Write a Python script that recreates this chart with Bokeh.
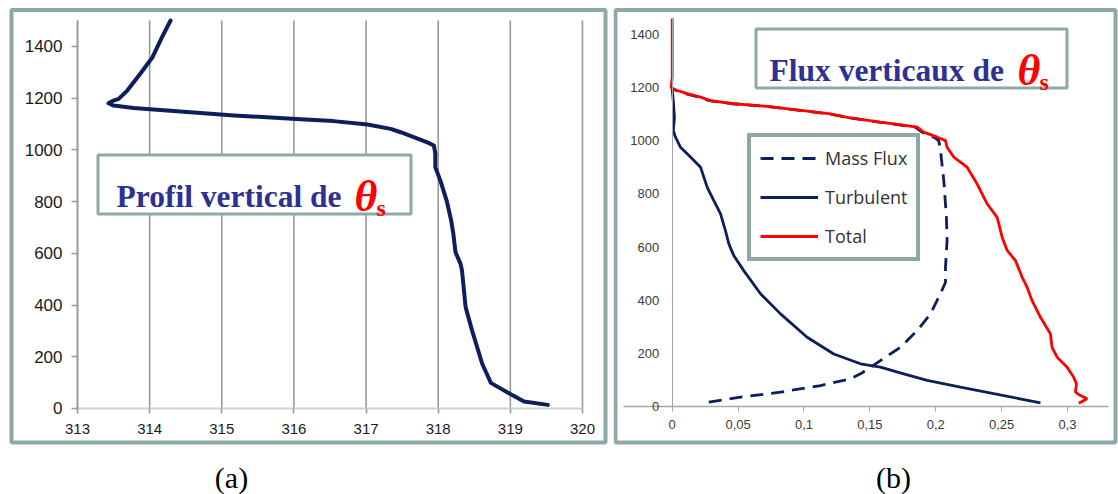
from bokeh.plotting import figure
from bokeh.models import FixedTicker, BoxAnnotation, Label, Legend, LegendItem
from bokeh.layouts import row
from bokeh.embed import file_html
from bokeh.resources import INLINE

# ---------------- data ----------------
# (a) vertical profile of theta_s
z_a = [14, 27, 59, 99, 173, 301, 392, 533, 559, 604, 675, 727, 801, 881, 933, 985,
       1017, 1029, 1049, 1068, 1081, 1098, 1111, 1118, 1133, 1152, 1162, 1171, 1180,
       1188, 1197, 1229, 1294, 1358, 1435, 1500]
theta_a = [319.52, 319.19, 318.98, 318.73, 318.61, 318.47, 318.38, 318.33, 318.31, 318.24,
           318.21, 318.18, 318.12, 318.03, 317.96, 317.96, 317.94, 317.85, 317.66, 317.48,
           317.34, 317.02, 316.55, 316.09, 315.17, 314.24, 313.78, 313.50, 313.43, 313.48,
           313.57, 313.69, 313.87, 314.04, 314.17, 314.29]
a_xticks = [313, 314, 315, 316, 317, 318, 319, 320]
a_yticks = [0, 200, 400, 600, 800, 1000, 1200, 1400]
a_ytop = 1500

# (b) vertical fluxes of theta_s
z_mf = [15, 34, 53, 78, 103, 122, 172, 222, 285, 348, 424, 467, 524, 625, 712, 851, 964,
        1001, 1014, 1033, 1052, 1071, 1089, 1102, 1130, 1140, 1152, 1165, 1178, 1190, 1198]
mass_flux = [0.0278, 0.0518, 0.0822, 0.1125, 0.1353, 0.1429, 0.158, 0.1732, 0.1859, 0.196,
             0.2036, 0.2074, 0.2074, 0.2086, 0.2081, 0.2061, 0.2036, 0.2023, 0.1985, 0.1895,
             0.1845, 0.157, 0.132, 0.119, 0.071, 0.046, 0.028, 0.020, 0.010, 0.003, 0.0]
z_turb = [13, 28, 47, 72, 97, 122, 147, 160, 197, 260, 348, 424, 511, 568, 612, 662, 725,
          775, 825, 901, 939, 976, 1014, 1039, 1089, 1152, 1195]
turbulent = [0.2795, 0.264, 0.244, 0.2187, 0.1935, 0.1757, 0.158, 0.1429, 0.1226, 0.1024,
             0.0822, 0.067, 0.0543, 0.0467, 0.043, 0.0404, 0.0367, 0.0316, 0.0266, 0.0215,
             0.0139, 0.0063, 0.0025, 0.0008, 0.0017, 0.0008, 0.0]
z_tot = [11, 28, 40, 53, 84, 109, 147, 185, 222, 273, 335, 398, 449, 474, 486, 549, 587, 637,
         712, 763, 838, 901, 939, 976, 1001, 1014, 1033, 1052, 1071, 1089, 1102, 1130, 1140,
         1152, 1165, 1178, 1190, 1200, 1240, 1341, 1461]
total = [0.3085, 0.3149, 0.3098, 0.306, 0.3068, 0.3047, 0.2997, 0.2921, 0.2883, 0.287,
         0.2795, 0.2731, 0.2693, 0.2668, 0.2656, 0.2605, 0.2542, 0.2504, 0.2466, 0.239,
         0.2314, 0.2238, 0.2137, 0.2086, 0.2074, 0.2011, 0.1909, 0.1859, 0.158, 0.1328,
         0.1201, 0.0721, 0.0467, 0.029, 0.0215, 0.0114, 0.0038, -0.0008, 0.0, 0.0, 0.0]
b_xticks = [0, 0.05, 0.1, 0.15, 0.2, 0.25, 0.3]
b_xlabels = ["0", "0,05", "0,1", "0,15", "0,2", "0,25", "0,3"]
b_yticks = [0, 200, 400, 600, 800, 1000, 1200, 1400]
series_names = ["Mass Flux", "Turbulent", "Total"]

# ---------------- style ----------------
TEAL = "#8ea8a8"
NAVY = "#0c1f5c"
RED = "#ff0000"
TBLUE = "#2e3192"
SERIF = "Liberation Serif"


def box(p, left, right, top, bottom, width, fill):
    p.add_layout(BoxAnnotation(left=left, right=right, top=top, bottom=bottom,
                               left_units="screen", right_units="screen",
                               top_units="screen", bottom_units="screen",
                               fill_color=fill, fill_alpha=1 if fill else 0,
                               line_color=TEAL, line_alpha=1, line_width=width,
                               level="overlay"))


def title_labels(p, x0, y0, words, theta_dx):
    p.add_layout(Label(x=x0, y=y0, x_units="screen", y_units="screen", text=words,
                       text_font=SERIF, text_font_style="bold", text_font_size="31.5px",
                       text_color=TBLUE, text_baseline="alphabetic", level="overlay"))
    p.add_layout(Label(x=x0 + theta_dx, y=y0, x_units="screen", y_units="screen", text="θ",
                       text_font=SERIF, text_font_style="bold italic", text_font_size="44px",
                       text_color=RED, text_baseline="alphabetic", level="overlay"))
    p.add_layout(Label(x=x0 + theta_dx + 22, y=y0 - 11, x_units="screen", y_units="screen",
                       text="s", text_font=SERIF, text_font_style="bold",
                       text_font_size="24px", text_color=RED, text_baseline="alphabetic",
                       level="overlay"))


def caption(p, text, x):
    p.add_layout(Label(x=x, y=17, x_units="screen", y_units="screen", text=text,
                       text_font=SERIF, text_font_size="30px", text_color="black",
                       text_align="center", text_baseline="middle"))


def make_fig(w, xr, yr):
    p = figure(width=w, height=494, x_range=xr, y_range=yr, output_backend="svg",
               toolbar_location=None, min_border=0)
    p.outline_line_color = None
    p.grid.visible = False
    return p


# ---------------- panel (a) ----------------
pA = make_fig(613, (311.9326, 320.430), (-332.5, 1577.3))
pA.segment(x0=a_xticks, y0=0, x1=a_xticks, y1=a_ytop, line_color="#999999", line_width=1.6)

pA.xaxis.fixed_location = 0
pA.xaxis.bounds = (a_xticks[0], a_xticks[-1])
pA.yaxis.fixed_location = a_xticks[0]
pA.yaxis.bounds = (0, a_ytop)
pA.xaxis.ticker = FixedTicker(ticks=a_xticks)
pA.yaxis.ticker = FixedTicker(ticks=a_yticks)
pA.xaxis.axis_line_color = "#cfcfcf"
pA.xaxis.axis_line_width = 2
pA.xaxis.major_tick_line_color = "#999999"
pA.xaxis.major_tick_line_width = 1.6
pA.xaxis.major_tick_out = 5
pA.xaxis.major_tick_in = 0
pA.xaxis.minor_tick_line_color = None
pA.xaxis.major_label_text_font = "Liberation Sans"
pA.xaxis.major_label_text_font_size = "15px"
pA.xaxis.major_label_text_color = "#1a1a1a"
pA.xaxis.major_label_standoff = 11
pA.yaxis.axis_line_color = "#999999"
pA.yaxis.axis_line_width = 1.6
pA.yaxis.major_tick_line_color = "#999999"
pA.yaxis.major_tick_line_width = 1.6
pA.yaxis.major_tick_out = 6
pA.yaxis.major_tick_in = 0
pA.yaxis.minor_tick_line_color = None
pA.yaxis.major_label_text_font = "Liberation Sans"
pA.yaxis.major_label_text_font_size = "17px"
pA.yaxis.major_label_text_color = "#1a1a1a"
pA.yaxis.major_label_standoff = 9

pA.line(theta_a, z_a, line_color=NAVY, line_width=4, line_join="round", line_cap="round")

box(pA, 11, 605, 484.5, 52, 4, None)
box(pA, 97.5, 410.5, 339.5, 280.5, 3, "white")
title_labels(pA, 116, 298, "Profil vertical de", 238)
caption(pA, "(a)", 231)

# ---------------- panel (b) ----------------
pB = make_fig(505, (-0.04455, 0.33870), (-332.8, 1529.2))
pB.xaxis.fixed_location = 0
pB.xaxis.bounds = (-0.037, 0.331)
pB.yaxis.fixed_location = 0
pB.yaxis.bounds = (0, 1465)
pB.xaxis.ticker = FixedTicker(ticks=b_xticks)
pB.xaxis.major_label_overrides = {t: s for t, s in zip(b_xticks, b_xlabels)}
pB.yaxis.ticker = FixedTicker(ticks=b_yticks)
pB.xaxis.axis_line_color = "#a6a6a6"
pB.xaxis.axis_line_width = 1.5
pB.xaxis.major_tick_line_color = "#a6a6a6"
pB.xaxis.major_tick_out = 5
pB.xaxis.major_tick_in = 0
pB.xaxis.minor_tick_line_color = None
pB.xaxis.major_label_standoff = 9
pB.yaxis.axis_line_color = "#a6a6a6"
pB.yaxis.axis_line_width = 1
pB.yaxis.major_tick_line_color = None
pB.yaxis.major_tick_out = 0
pB.yaxis.major_tick_in = 0
pB.yaxis.minor_tick_line_color = None
pB.yaxis.major_label_standoff = 13
for ax in (pB.xaxis, pB.yaxis):
    ax.major_label_text_font = "Liberation Sans"
    ax.major_label_text_font_size = "13px"
    ax.major_label_text_color = "#3a3a3a"

r_mf = pB.line(mass_flux, z_mf, line_color=NAVY, line_width=2.8, line_dash="13 8")
r_tu = pB.line(turbulent, z_turb, line_color=NAVY, line_width=2.8)
r_to = pB.line(total, z_tot, line_color=RED, line_width=2.8)

legend = Legend(items=[LegendItem(label=series_names[0], renderers=[r_mf]),
                       LegendItem(label=series_names[1], renderers=[r_tu]),
                       LegendItem(label=series_names[2], renderers=[r_to])],
                location=(134, 233), glyph_width=58, glyph_height=20, label_height=20,
                spacing=15, padding=9, label_standoff=7, margin=0,
                label_text_font="Open Sans", label_text_font_size="18px",
                label_text_color="#333333", border_line_color=TEAL, border_line_width=4,
                border_line_alpha=1, background_fill_color="white", background_fill_alpha=1)
pB.add_layout(legend)

box(pB, 2, 502, 484.5, 52, 4, None)
box(pB, 142.5, 453.5, 465.5, 406.5, 3, "white")
title_labels(pB, 156, 424, "Flux verticaux de", 248)
caption(pB, "(b)", 280)

layout = row(pA, pB)
open("out.html", "w").write(file_html(layout, INLINE))
